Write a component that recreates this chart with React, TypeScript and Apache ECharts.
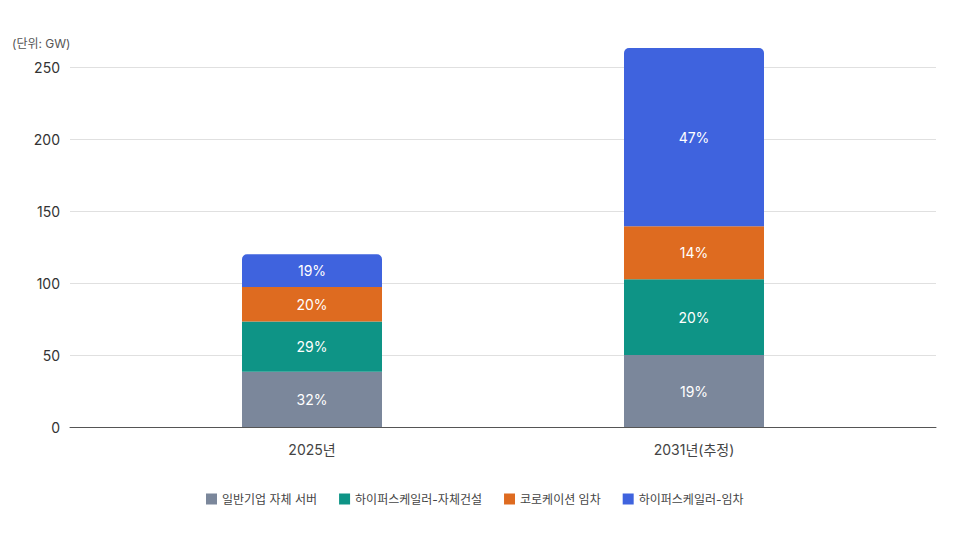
import { useEffect, useRef } from 'react';
import * as echarts from 'echarts';

const categories = ['2025년', '2031년(추정)'];
const seriesNames = ['일반기업 자체 서버', '하이퍼스케일러-자체건설', '코로케이션 임차', '하이퍼스케일러-임차'];
const colors = ['#7b879b', '#0e9486', '#de6b20', '#3f63de'];

// GW values per segment (bottom to top)
const enterprise = [38.4, 50.0];
const hyperOwn = [34.8, 52.6];
const colocation = [24.0, 36.8];
const hyperLease = [22.8, 123.8];

// share labels shown inside the bars
const enterpriseShare = ['32%', '19%'];
const hyperOwnShare = ['29%', '20%'];
const colocationShare = ['20%', '14%'];
const hyperLeaseShare = ['19%', '47%'];

const yTicks = [0, 50, 100, 150, 200, 250];

const FONT = "Inter, 'Noto Sans CJK KR', sans-serif";

export default function App() {
  const chartRef = useRef<HTMLDivElement>(null);

  useEffect(() => {
    if (!chartRef.current) return;
    const chart = echarts.init(chartRef.current, undefined, { renderer: 'svg' });

    const totals = categories.map(
      (_, i) => enterprise[i] + hyperOwn[i] + colocation[i] + hyperLease[i]
    );
    const yMax = Math.max(...totals);

    const values = [enterprise, hyperOwn, colocation, hyperLease];
    const shares = [enterpriseShare, hyperOwnShare, colocationShare, hyperLeaseShare];

    const series: echarts.SeriesOption[] = values.map((vals, s) => ({
      name: seriesNames[s],
      type: 'bar',
      stack: 'total',
      xAxisIndex: 1,
      yAxisIndex: 1,
      barWidth: 140,
      data: vals,
      itemStyle: {
        color: colors[s],
        borderRadius: s === values.length - 1 ? [5, 5, 0, 0] : 0
      },
      label: {
        show: true,
        position: 'inside',
        color: '#ffffff',
        fontSize: 14,
        fontFamily: FONT,
        formatter: (p: any) => shares[s][p.dataIndex]
      }
    }));

    const options: echarts.EChartsOption = {
      animation: false,
      textStyle: { fontFamily: FONT },
      grid: [
        { left: 70, right: 24, top: 48, bottom: 113 }, // axes + split lines
        { left: 121, right: 75, top: 48, bottom: 113 } // bars
      ],
      graphic: [
        {
          type: 'text',
          left: 12,
          top: 37,
          style: { text: '(단위: GW)', fill: '#555', fontSize: 12, fontFamily: FONT }
        }
      ],
      legend: {
        bottom: 35,
        left: 206,
        padding: 0,
        icon: 'rect',
        itemWidth: 11,
        itemHeight: 11,
        itemGap: 22,
        textStyle: { color: '#444', fontSize: 12, fontFamily: FONT },
        data: seriesNames
      },
      xAxis: [
        {
          type: 'category',
          gridIndex: 0,
          data: categories,
          axisLine: { show: true, lineStyle: { color: '#555', width: 1 } },
          axisTick: { show: false },
          axisLabel: { show: false }
        },
        {
          type: 'category',
          gridIndex: 1,
          data: categories,
          axisLine: { show: false },
          axisTick: { show: false },
          axisLabel: { color: '#444', fontSize: 14, margin: 15, fontFamily: FONT }
        }
      ],
      yAxis: [
        {
          type: 'value',
          gridIndex: 0,
          min: 0,
          max: yMax,
          interval: 50,
          axisLine: { show: false },
          axisTick: { show: false },
          axisLabel: {
            color: '#333',
            fontSize: 14,
            margin: 10,
            fontFamily: FONT,
            showMaxLabel: false,
            formatter: (v: number) => (yTicks.includes(v) ? String(v) : '')
          },
          splitLine: { show: true, showMinLine: false, showMaxLine: false, lineStyle: { color: '#e0e0e0' } }
        },
        {
          type: 'value',
          gridIndex: 1,
          min: 0,
          max: yMax,
          show: false,
          splitLine: { show: false }
        }
      ],
      series
    };

    chart.setOption(options);
    return () => chart.dispose();
  }, []);

  return (
    <div
      ref={chartRef}
      style={{ position: 'fixed', left: 0, top: 0, width: 960, height: 540, background: '#fff' }}
    />
  );
}
